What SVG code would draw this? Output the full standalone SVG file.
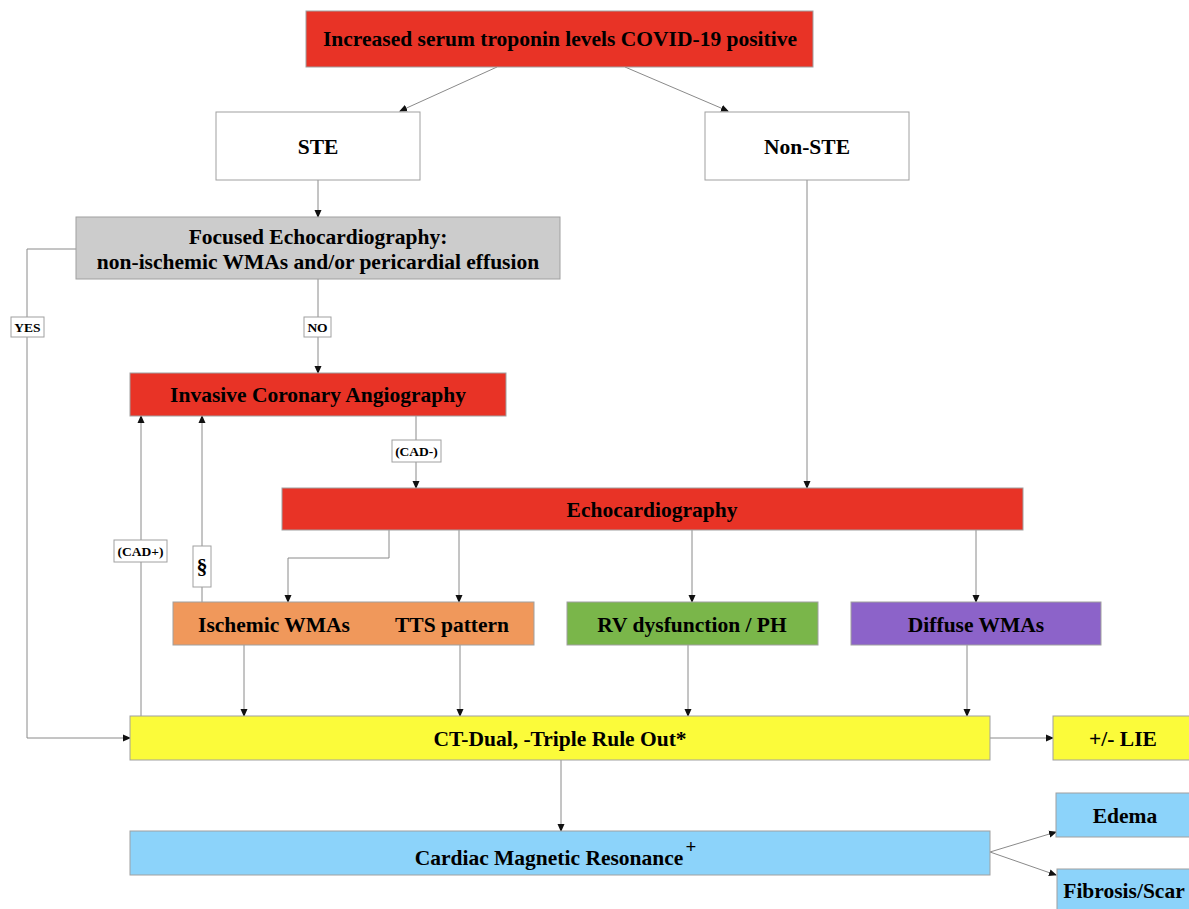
<svg xmlns="http://www.w3.org/2000/svg" width="1189" height="909" viewBox="0 0 1189 909">
<defs>
<marker id="ah" markerWidth="8" markerHeight="8" refX="7" refY="4" orient="auto" markerUnits="userSpaceOnUse">
<path d="M0,0.5 L8,4 L0,7.5 z" fill="#111"/>
</marker>
<style>
.n{stroke:#a0a0a0;stroke-width:1}
.t{font-family:"Liberation Serif","Times New Roman",serif;font-weight:bold;font-size:21.5px;fill:#000;text-anchor:middle;dominant-baseline:central}
.c{fill:none;stroke:#8a8a8a;stroke-width:1;marker-end:url(#ah)}
.lb{fill:#fff;stroke:#a0a0a0;stroke-width:1}
.lt{font-family:"Liberation Serif","Times New Roman",serif;font-weight:bold;font-size:13.5px;fill:#000;text-anchor:middle;dominant-baseline:central}
.red{fill:#e83326}
.wh{fill:#fff}
.gr{fill:#cccccc}
.or{fill:#f0985b}
.gn{fill:#7ab64a}
.pu{fill:#8c63c9}
.ye{fill:#fbfb3a}
.bl{fill:#8cd3fa}
</style>
</defs>
<rect width="1189" height="909" fill="#fff"/>
<g id="connectors">
<path class="c" d="M497,67 L400,111"/>
<path class="c" d="M625,67 L728,111"/>
<path class="c" d="M318,180 L318,217"/>
<path class="c" d="M76,249 L27,249 L27,738 L130,738"/>
<path class="c" d="M318,279 L318,373"/>
<path class="c" d="M416,416 L416,488"/>
<path class="c" d="M807,180 L807,488"/>
<path class="c" d="M389,530 L389,558 L288,558 L288,602"/>
<path class="c" d="M459,530 L459,602"/>
<path class="c" d="M692,530 L692,602"/>
<path class="c" d="M976,530 L976,602"/>
<path class="c" d="M202,602 L202,416"/>
<path class="c" d="M141,716 L141,416"/>
<path class="c" d="M244,645 L244,716"/>
<path class="c" d="M460,645 L460,716"/>
<path class="c" d="M688,645 L688,716"/>
<path class="c" d="M967,645 L967,716"/>
<path class="c" d="M990,738 L1053,738"/>
<path class="c" d="M561,760 L561,831"/>
<path class="c" d="M990,852 L1056,832"/>
<path class="c" d="M990,852 L1056,875"/>
<rect class="lb" x="11" y="317" width="33" height="20"/>
<text class="lt" x="27.5" y="327">YES</text>
<rect class="lb" x="304" y="317" width="27" height="20"/>
<text class="lt" x="317.5" y="327">NO</text>
<rect class="lb" x="392" y="440" width="49" height="22"/>
<text class="lt" x="416.5" y="451">(CAD-)</text>
<rect class="lb" x="114" y="540" width="53" height="22"/>
<text class="lt" x="140.5" y="551">(CAD+)</text>
<rect class="lb" x="193" y="546" width="18" height="41"/>
<text class="lt" x="202" y="566" style="font-size:22px">§</text>
</g>
<g id="n-top"><rect class="n red" x="306" y="11" width="507" height="56"/><text class="t" x="560" y="39">Increased serum troponin levels COVID-19 positive</text></g>
<g id="n-ste"><rect class="n wh" x="216" y="112" width="204" height="68"/><text class="t" x="318" y="147">STE</text></g>
<g id="n-nste"><rect class="n wh" x="705" y="112" width="204" height="68"/><text class="t" x="807" y="147">Non-STE</text></g>
<g id="n-focused"><rect class="n gr" x="76" y="217" width="484" height="62"/><text class="t" x="318" y="237">Focused Echocardiography:</text><text class="t" x="318" y="262">non-ischemic WMAs and/or pericardial effusion</text></g>
<g id="n-ica"><rect class="n red" x="130" y="373" width="376" height="43"/><text class="t" x="318" y="395">Invasive Coronary Angiography</text></g>
<g id="n-echo"><rect class="n red" x="282" y="488" width="741" height="42"/><text class="t" x="652" y="510">Echocardiography</text></g>
<g id="n-isch"><rect class="n or" x="173" y="602" width="361" height="43"/><text class="t" x="274" y="625">Ischemic WMAs</text><text class="t" x="452" y="625">TTS pattern</text></g>
<g id="n-rv"><rect class="n gn" x="567" y="602" width="251" height="43"/><text class="t" x="692" y="625">RV dysfunction / PH</text></g>
<g id="n-diffuse"><rect class="n pu" x="851" y="602" width="250" height="43"/><text class="t" x="976" y="625">Diffuse WMAs</text></g>
<g id="n-ct"><rect class="n ye" x="130" y="716" width="860" height="44"/><text class="t" x="560" y="739">CT-Dual, -Triple Rule Out*</text></g>
<g id="n-lie"><rect class="n ye" x="1053" y="716" width="140" height="44"/><text class="t" x="1123" y="739">+/- LIE</text></g>
<g id="n-cmr"><rect class="n bl" x="130" y="831" width="860" height="44"/><text class="t" x="549" y="858">Cardiac Magnetic Resonance</text><text class="t" x="691" y="846" style="font-size:19px">+</text></g>
<g id="n-edema"><rect class="n bl" x="1056" y="793" width="137" height="44"/><text class="t" x="1125" y="816">Edema</text></g>
<g id="n-fibrosis"><rect class="n bl" x="1057" y="869" width="136" height="44"/><text class="t" x="1124" y="891">Fibrosis/Scar</text></g>
</svg>
